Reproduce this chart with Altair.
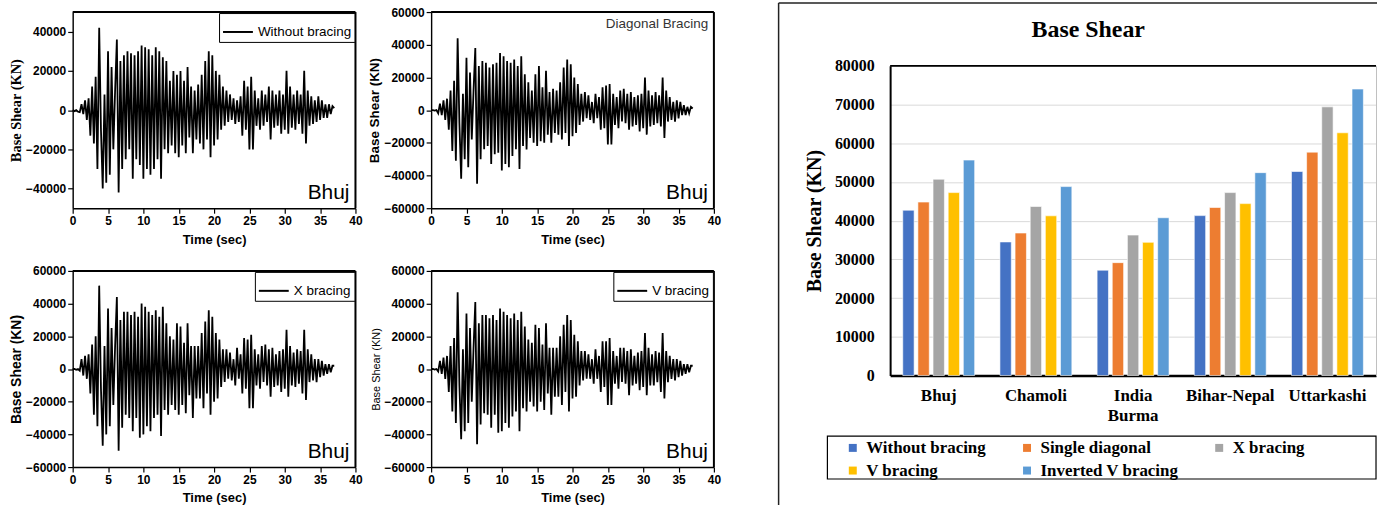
import altair as alt
import pandas as pd

# ---------------- data ----------------
DT = 0.25  # sampling step of the digitised base-shear records (s)

without_bracing = [
    0, -500, 0, -800,
    -1000, 3000, -2000, 5000,
    -5000, 6000, -13000, 12000,
    -17000, 17000, -30000, 42000,
    -10000, -40000, 8000, -37000,
    30000, -33000, 22000, -20000,
    10000, 36000, -42000, 25000,
    -30000, 28000, -25000, 30000,
    -20000, 29000, -35000, 28000,
    -25000, 30000, -28000, 33000,
    -35000, 32000, -30000, 31000,
    -33000, 28000, -30000, 32000,
    -25000, 30000, -35000, 27000,
    -20000, 25000, -22000, 15000,
    -18000, 20000, -22000, 18000,
    -24000, 20000, -18000, 15000,
    -22000, 22000, -14000, 12000,
    -22000, 10000, -15000, 13000,
    -17000, 18000, -20000, 25000,
    -15000, 30000, -24000, 28000,
    -18000, 20000, -15000, 18000,
    -10000, 12000, -8000, 10000,
    -6000, 8000, -5000, 6000,
    -7000, 5000, -6000, 7000,
    -13000, 15000, -10000, 12000,
    -20000, 17000, -20000, 10000,
    -8000, 6000, -10000, 10000,
    -8000, 8000, -6000, 12000,
    -15000, 10000, -9000, 8000,
    -8000, 10000, -12000, 8000,
    -10000, 20000, -12000, 12000,
    -9000, 8000, -10000, 10000,
    -7000, 8000, -12000, 20000,
    -17000, 10000, -8000, 7000,
    -7000, 5000, -6000, 7000,
    -5000, 5000, -4000, 3000,
    -4000, 3000, -2000, 2000,
    1000,
]

diagonal_bracing = [
    0, 0, -300, 0,
    -2000, 4000, -3000, 6000,
    -6000, 7000, -12000, 12000,
    -25000, 18000, -31000, 44000,
    -8000, -42000, 10000, -30000,
    32000, -35000, 23000, -18000,
    12000, 38000, -45000, 27000,
    -30000, 30000, -24000, 29000,
    -22000, 26000, -33000, 28000,
    -27000, 29000, -26000, 35000,
    -37000, 33000, -33000, 30000,
    -35000, 29000, -28000, 31000,
    -24000, 27000, -36000, 33000,
    -22000, 22000, -24000, 17000,
    -17000, 12000, -20000, 22000,
    -22000, 27000, -19000, 14000,
    -20000, 24000, -15000, 11000,
    -20000, 13000, -14000, 12000,
    -15000, 17000, -18000, 26000,
    -14000, 31000, -22000, 28000,
    -16000, 20000, -14000, 16000,
    -9000, 10000, -7000, 11000,
    -5000, 9000, -6000, 5000,
    -8000, 10000, -5000, 8000,
    -12000, 14000, -11000, 15000,
    -21000, 16000, -21000, 10000,
    -9000, 8000, -11000, 12000,
    -7000, 13000, -8000, 10000,
    -12000, 11000, -10000, 8000,
    -9000, 9000, -13000, 10000,
    -11000, 20000, -15000, 12000,
    -10000, 9000, -9000, 11000,
    -8000, 9000, -10000, 20000,
    -17000, 12000, -7000, 8000,
    -6000, 5000, -7000, 6000,
    -5000, 5000, -3000, 3000,
    -3000, 2000, -2000, 2000,
    1000,
]

x_bracing = [
    0, 0, -500, 0,
    -1000, 6000, -4000, 8000,
    -6000, 9000, -15000, 15000,
    -28000, 20000, -35000, 51000,
    -12000, -47000, 14000, -40000,
    37000, -35000, 25000, -22000,
    14000, 44000, -50000, 30000,
    -36000, 35000, -28000, 35000,
    -30000, 33000, -38000, 35000,
    -30000, 32000, -42000, 40000,
    -40000, 38000, -35000, 35000,
    -38000, 33000, -30000, 36000,
    -28000, 32000, -41000, 38000,
    -25000, 28000, -28000, 20000,
    -22000, 18000, -25000, 28000,
    -28000, 26000, -22000, 16000,
    -27000, 28000, -16000, 14000,
    -30000, 14000, -18000, 14000,
    -18000, 22000, -24000, 29000,
    -15000, 36000, -28000, 32000,
    -20000, 22000, -18000, 18000,
    -11000, 12000, -8000, 12000,
    -6000, 10000, -7000, 6000,
    -10000, 13000, -6000, 9000,
    -15000, 19000, -12000, 18000,
    -24000, 21000, -24000, 12000,
    -10000, 9000, -12000, 14000,
    -8000, 15000, -10000, 12000,
    -17000, 13000, -11000, 9000,
    -10000, 11000, -14000, 12000,
    -12000, 24000, -17000, 14000,
    -10000, 10000, -11000, 12000,
    -9000, 11000, -15000, 24000,
    -19000, 12000, -8000, 9000,
    -7000, 6000, -8000, 6000,
    -5000, 5000, -4000, 3000,
    -3000, 3000, -2000, 2000,
    2000,
]

v_bracing = [
    0, 0, -400, 0,
    -1500, 5000, -3000, 7000,
    -6000, 8000, -14000, 14000,
    -26000, 19000, -33000, 47000,
    -10000, -43000, 12000, -38000,
    34000, -33000, 25000, -20000,
    13000, 41000, -46000, 28000,
    -34000, 33000, -27000, 33000,
    -28000, 31000, -36000, 33000,
    -28000, 30000, -39000, 37000,
    -38000, 35000, -33000, 33000,
    -36000, 31000, -29000, 34000,
    -26000, 30000, -38000, 35000,
    -24000, 26000, -26000, 18000,
    -20000, 16000, -23000, 27000,
    -26000, 25000, -20000, 15000,
    -25000, 28000, -15000, 13000,
    -28000, 13000, -17000, 13000,
    -17000, 20000, -22000, 27000,
    -14000, 33000, -26000, 30000,
    -18000, 21000, -17000, 17000,
    -10000, 11000, -7000, 11000,
    -6000, 9000, -6000, 6000,
    -9000, 12000, -6000, 8000,
    -14000, 17000, -11000, 17000,
    -22000, 19000, -22000, 11000,
    -9000, 8000, -12000, 13000,
    -8000, 13000, -9000, 11000,
    -16000, 12000, -10000, 8000,
    -9000, 10000, -13000, 11000,
    -11000, 22000, -16000, 13000,
    -10000, 9000, -10000, 11000,
    -8000, 10000, -14000, 22000,
    -18000, 11000, -8000, 8000,
    -6000, 6000, -7000, 6000,
    -5000, 5000, -4000, 3000,
    -3000, 3000, -2000, 2000,
    2000,
]

time_ticks = [0, 5, 10, 15, 20, 25, 30, 35, 40]
y_ticks_50 = [-40000, -20000, 0, 20000, 40000]
y_ticks_60 = [-60000, -40000, -20000, 0, 20000, 40000, 60000]

locations = ["Bhuj", "Chamoli", "India Burma", "Bihar-Nepal", "Uttarkashi"]
bracings = ["Without bracing", "Single diagonal", "X bracing", "V bracing", "Inverted V bracing"]
bar_colors = ["#4472C4", "#ED7D31", "#A5A5A5", "#FFC000", "#5B9BD5"]
shear_without = [42700, 34500, 27200, 41300, 52700]
shear_single = [44800, 36800, 29150, 43400, 57700]
shear_x = [50700, 43650, 36270, 47250, 69400]
shear_v = [47250, 41250, 34400, 44400, 62700]
shear_inv_v = [55650, 48800, 40750, 52400, 74000]
shear_ticks = [0, 10000, 20000, 30000, 40000, 50000, 60000, 70000, 80000]

# legend is filled column by column: this order gives the reference's rows
legend_order = ["Without bracing", "V bracing", "Single diagonal", "Inverted V bracing", "X bracing"]
legend_colors = [bar_colors[bracings.index(b)] for b in legend_order]

# ---------------- styling ----------------
SANS = "Liberation Sans"
SERIF = "Liberation Serif"
PW, PH = 284, 197


def time_panel(values, name, ymax, yticks, t_font, t_size, t_weight, boxed):
    df = pd.DataFrame({
        "t": [i * DT for i in range(len(values))],
        "v": values,
        "s": [name] * len(values),
    })
    if boxed:
        leg = alt.Legend(title=None, orient="top-right", offset=1, padding=3,
                         strokeColor="black", fillColor="white",
                         symbolType="stroke", symbolSize=900, symbolStrokeWidth=2,
                         labelFont=SANS, labelFontSize=13.5, labelColor="black",
                         labelOffset=4)
    else:
        leg = alt.Legend(title=None, orient="top-right", offset=3, padding=2,
                         symbolType="stroke", symbolSize=0, symbolOpacity=0,
                         symbolStrokeWidth=0, labelFont=SANS, labelFontSize=13.5,
                         labelColor="#333333", labelOffset=0)
    xs = alt.Scale(domain=[0, 40], nice=False, zero=False)
    ys = alt.Scale(domain=[-ymax, ymax], nice=False)
    x_axis = alt.Axis(values=time_ticks, title="Time (sec)", grid=False,
                      titleFont=SANS, titleFontSize=13, titleFontWeight="bold",
                      titleColor="black", titlePadding=7,
                      labelFont=SANS, labelFontSize=12, labelFontWeight="bold",
                      labelColor="black", labelPadding=2, labelFlush=False,
                      labelOverlap=False, tickColor="black", tickSize=5,
                      tickWidth=1.2, domainColor="black", domainWidth=1.4)
    y_axis = alt.Axis(values=yticks, format="d", title="Base Shear (KN)", grid=False,
                      titleFont=t_font, titleFontSize=t_size, titleFontWeight=t_weight,
                      titleColor="black", titlePadding=2,
                      labelFont=SANS, labelFontSize=12, labelFontWeight="bold",
                      labelColor="black", labelPadding=2, labelOverlap=False,
                      tickColor="black", tickSize=5, tickWidth=1.2,
                      domainColor="black", domainWidth=1.4)
    line = alt.Chart(df).mark_line(strokeWidth=1.8).encode(
        x=alt.X("t:Q", scale=xs, axis=x_axis, title="Time (sec)"),
        y=alt.Y("v:Q", scale=ys, axis=y_axis, title="Base Shear (KN)"),
        color=alt.Color("s:N", scale=alt.Scale(range=["black"]), legend=leg),
    )
    # top and right edges of the plot frame, drawn through the panel's own scales
    edge = pd.DataFrame({"k": [0]})
    top_edge = alt.Chart(edge).mark_rule(color="black", strokeWidth=2).encode(
        y=alt.YDatum(ymax, type="quantitative", scale=ys, axis=y_axis, title="Base Shear (KN)"))
    right_edge = alt.Chart(edge).mark_rule(color="black", strokeWidth=2).encode(
        x=alt.XDatum(40, type="quantitative", scale=xs, axis=x_axis, title="Time (sec)"))
    tag = alt.Chart(pd.DataFrame({"place": ["Bhuj"]})).mark_text(
        align="right", baseline="alphabetic", font=SANS, fontSize=21, color="black"
    ).encode(text="place:N", x=alt.value(PW - 6), y=alt.value(PH - 9.5))
    return alt.layer(line, top_edge, right_edge, tag).properties(width=PW, height=PH)


p1 = time_panel(without_bracing, "Without bracing", 50000, y_ticks_50, SERIF, 14.5, "bold", True)
p2 = time_panel(diagonal_bracing, "Diagonal Bracing", 60000, y_ticks_60, SANS, 13.5, "bold", False)
p3 = time_panel(x_bracing, "X bracing", 60000, y_ticks_60, SANS, 14, "bold", True)
p4 = time_panel(v_bracing, "V bracing", 60000, y_ticks_60, SANS, 11, "normal", True)

grid = alt.concat(p1, p2, p3, p4, columns=2,
                  spacing={"row": 17, "column": 4}).resolve_scale(color="independent")

# ---------------- bar chart ----------------
rows = []
for i, loc in enumerate(locations):
    for b, series in zip(bracings, [shear_without, shear_single, shear_x, shear_v, shear_inv_v]):
        rows.append({"location": loc, "bracing": b, "shear": series[i]})
bar_df = pd.DataFrame(rows)

BW, BH = 488, 365
Y_BOTTOM, Y_TOP = 365, 54

bars = alt.Chart(bar_df).mark_bar(stroke="white", strokeWidth=0.6).encode(
    x=alt.X("location:N", sort=locations,
            scale=alt.Scale(paddingInner=0.26, paddingOuter=0.13),
            axis=alt.Axis(title=None, labelAngle=0, labelFont=SERIF, labelFontWeight="bold",
                          labelFontSize=17, labelColor="black", labelPadding=12,
                          labelLineHeight=20, ticks=False, tickSize=0,
                          domainColor="black", domainWidth=2.5,
                          labelExpr="datum.label == 'India Burma' ? ['India', 'Burma'] : datum.label")),
    xOffset=alt.XOffset("bracing:N", sort=bracings,
                        scale=alt.Scale(paddingInner=0.25, paddingOuter=0)),
    y=alt.Y("shear:Q", scale=alt.Scale(domain=[0, 80000], range=[Y_BOTTOM, Y_TOP], nice=False),
            axis=alt.Axis(values=shear_ticks, format="d", title="Base Shear (KN)",
                          titleFont=SERIF, titleFontSize=20, titleFontWeight="bold",
                          titleColor="black", titlePadding=10,
                          labelFont=SERIF, labelFontSize=16, labelFontWeight="bold",
                          labelColor="black", labelPadding=16, ticks=False, tickSize=0,
                          domainColor="black", domainWidth=2, grid=True,
                          gridColor="#d9d9d9", gridWidth=1)),
    color=alt.Color("bracing:N",
                    scale=alt.Scale(domain=legend_order, range=legend_colors),
                    legend=alt.Legend(title=None, orient="none", legendX=-49, legendY=426,
                                      columns=3, columnPadding=32, rowPadding=5,
                                      symbolType="square", symbolSize=64, symbolStrokeWidth=0,
                                      labelFont=SERIF, labelFontWeight="bold", labelFontSize=17,
                                      labelColor="black", labelOffset=5, labelLimit=0,
                                      padding=3)),
)

one = pd.DataFrame({"label": ["Base Shear"]})
frame_top = alt.Chart(one).mark_rule(color="black", strokeWidth=1.8).encode(
    y=alt.YDatum(80000, type="quantitative",
                 axis=alt.Axis(orient="right", labels=False, ticks=False, grid=False,
                               title=None, domainColor="#bfbfbf", domainWidth=1)))
title = alt.Chart(one).mark_text(font=SERIF, fontSize=24, fontWeight="bold", color="black",
                                 baseline="alphabetic").encode(
    text="label:N", x=alt.value(199), y=alt.value(25))
border_v = alt.Chart(one).mark_rule(color="#222222", strokeWidth=1.5).encode(
    x=alt.value(-112), y=alt.value(-9), y2=alt.value(495))
border_h = alt.Chart(one).mark_rule(color="#222222", strokeWidth=1.5).encode(
    x=alt.value(-112), x2=alt.value(489), y=alt.value(-9))
legend_box = alt.Chart(one).mark_rect(fillOpacity=0, stroke="black", strokeWidth=1.2).encode(
    x=alt.value(-63), x2=alt.value(488), y=alt.value(426), y2=alt.value(469))

bar_chart = alt.layer(legend_box, bars, frame_top, title, border_v, border_h).resolve_axis(
    y="independent").properties(width=BW, height=BH,
                                view=alt.ViewBackground(stroke="transparent"))

chart = alt.hconcat(grid, bar_chart, spacing=55).resolve_scale(color="independent").properties(
    padding={"left": 8, "top": 0, "right": 0, "bottom": 0}
).configure_view(stroke="black", strokeWidth=1.2).configure(font=SANS)

chart.save("out.html", embed_options={"renderer": "svg", "actions": False})
